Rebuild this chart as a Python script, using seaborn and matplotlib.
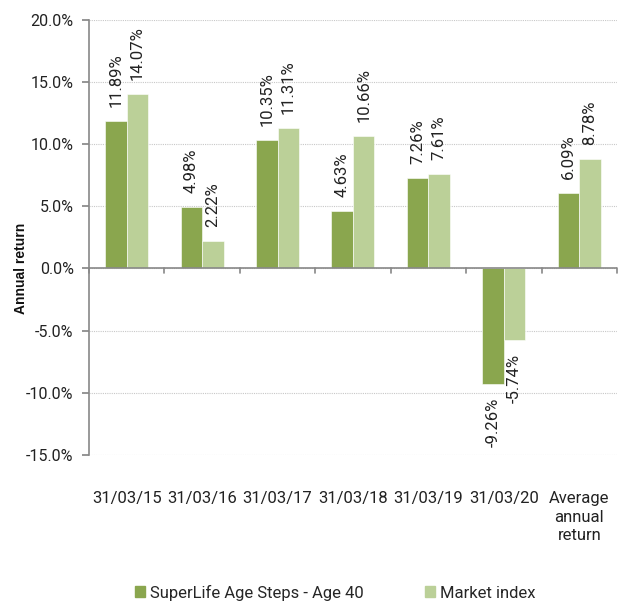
import pandas as pd
import numpy as np
import matplotlib.pyplot as plt
import seaborn as sns

periods = ['31/03/15', '31/03/16', '31/03/17', '31/03/18', '31/03/19', '31/03/20', 'Average\nannual\nreturn']
superlife = [11.89, 4.98, 10.35, 4.63, 7.26, -9.26, 6.09]
market = [14.07, 2.22, 11.31, 10.66, 7.61, -5.74, 8.78]
series_names = ['SuperLife Age Steps - Age 40', 'Market index']
colors = ['#8aa64e', '#bbd098']

df = pd.DataFrame({'Period': periods, series_names[0]: superlife, series_names[1]: market})
df = pd.melt(df, id_vars=['Period'], value_vars=series_names, var_name='Series', value_name='Return')

sns.set_theme(style='white')
plt.rcParams['font.family'] = ['Roboto', 'DejaVu Sans']

fig = plt.figure(figsize=(6.22, 6.01), dpi=100)
ax = fig.add_axes([0.143, 0.243, 0.849, 0.724])

sns.barplot(data=df, x='Period', y='Return', hue='Series', palette=colors,
            width=0.57, saturation=1, ax=ax, legend=False, edgecolor='white', linewidth=0.4)

for c in ax.containers:
    labels = [f'{v.get_height():.2f}%' for v in c]
    ax.bar_label(c, labels=labels, rotation=90, padding=10, fontsize=12, color='#222222')

ax.set_ylim(-15, 20)
ax.set_yticks(np.arange(-15, 21, 5))
ax.set_yticklabels([f'{t:.1f}%' for t in np.arange(-15, 21, 5)], fontsize=11.5, color='#222222')
ax.yaxis.grid(True, color='#c8c8c8', linestyle=(0, (1, 1)), linewidth=0.8)
ax.set_axisbelow(True)

for s in ['top', 'right', 'bottom']:
    ax.spines[s].set_visible(False)
ax.spines['left'].set_color('#888888')
ax.spines['left'].set_linewidth(1.2)
ax.axhline(0, color='#888888', linewidth=1.2, zorder=1)
ax.tick_params(axis='y', left=True, length=5, color='#888888', pad=6)

# category boundary ticks on the zero line
for b in np.arange(-0.5, len(periods), 1.0):
    ax.plot([b, b], [0, -0.4], color='#888888', linewidth=1.2, zorder=1, clip_on=False)

ax.set_xlim(-0.5, len(periods) - 0.5)
ax.tick_params(axis='x', bottom=False, pad=20)
ax.set_xticks(range(len(periods)))
ax.set_xticklabels(periods, fontsize=12, color='#222222', linespacing=1.3)
ax.set_xlabel('')
ax.set_ylabel('Annual return', fontsize=10, fontweight='bold', color='#111111',
              family=['Liberation Sans', 'DejaVu Sans'])
ax.yaxis.set_label_coords(-0.115, 15 / 35)

handles = [plt.Rectangle((0, 0), 1, 1, color=c) for c in colors]
fig.legend(handles, series_names, loc='center', bbox_to_anchor=(0.539, 0.014), ncol=2,
           frameon=False, fontsize=12, handlelength=0.6, handleheight=0.6, handletextpad=0.3,
           columnspacing=3.7, borderpad=0, borderaxespad=0)

fig.savefig('out.png', dpi=100)
